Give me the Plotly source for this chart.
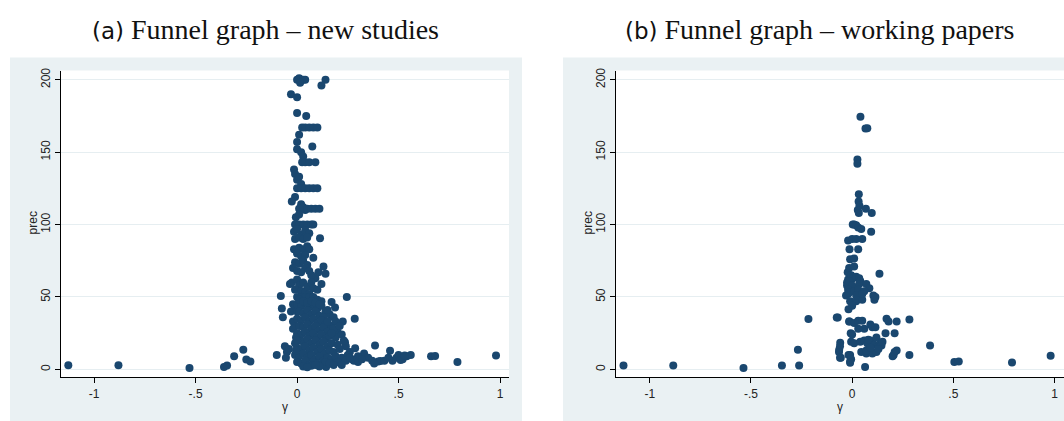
import plotly.graph_objects as go

# ---------------- data ----------------
# Panel (a): new studies
gamma_new = [
    0.00, 0.01, 0.02, 0.03, 0.04, 0.015, 0.14, 0.12, -0.03, 0.00,
    0.00, 0.045, 0.025, 0.04, 0.06, 0.08, 0.10,
    0.01, 0.00, 0.00, 0.075, 0.02, 0.03,
    0.025, 0.04, 0.06, 0.09,
    -0.015, -0.01, 0.00, 0.02, 0.01,
    0.00, 0.02, 0.04, 0.06, 0.08, 0.10,
    -0.01, -0.026, 0.02, 0.03, 0.04,
    0.01, 0.03, 0.05, 0.07, 0.09, 0.11,
    -0.006, 0.01,
    -0.01, 0.01, 0.03, 0.05, 0.07, 0.08,
    -0.015, 0.00, 0.02, 0.04, 0.06, -0.01, 0.01, 0.03, 0.05, 0.113,
    -0.015, 0.01, 0.03, 0.05, 0.06, 0.00, 0.02, 0.08, 0.04,
    -0.01, 0.01, 0.03, 0.05, -0.02, 0.04, 0.00, 0.02, 0.06,
    0.13, 0.14, 0.105, 0.12, 0.09, 0.07,
    -0.035, -0.025, 0.00, 0.01, 0.03, 0.05, 0.07, 0.08, 0.10,
    -0.01, 0.02, 0.04, 0.06, 0.00, 0.02, 0.04, 0.06, 0.08, 0.10, 0.12,
    -0.08, -0.075, -0.07, 0.245, 0.17, 0.187, 0.284, 0.225, 0.20, 0.236,
    0.286, 0.384, 0.458, 0.33, 0.30, 0.27, 0.40, 0.41,
    0.47, 0.49, 0.50, 0.52, 0.54, 0.56, 0.51, 0.53,
    0.66, 0.68, 0.79, 0.98, 0.143,
    -0.10, -0.06, -0.05, -0.055, -0.04,
    -1.127, -0.88, -0.53, -0.36, -0.345, -0.31, -0.265, -0.25, -0.23,
    -0.03, -0.02, -0.01, -0.02, -0.01, -0.02, 0.00,
    0.00, 0.02, 0.04, 0.06, 0.08, 0.10, 0.12, 0.14, 0.16,
    0.01, 0.03, 0.05, 0.07, 0.09, 0.11, 0.13, 0.15, 0.18,
    0.00, 0.02, 0.04, 0.06, 0.08, 0.10, 0.12, 0.14, 0.17, 0.19,
    0.01, 0.03, 0.05, 0.07, 0.09, 0.11, 0.13, 0.15, 0.18, 0.21,
    0.00, 0.02, 0.04, 0.06, 0.08, 0.10, 0.12, 0.14, 0.16, 0.19, 0.22,
    0.01, 0.03, 0.05, 0.07, 0.09, 0.11, 0.13, 0.15, 0.17, 0.20, 0.24,
    0.00, 0.02, 0.04, 0.06, 0.08, 0.10, 0.12, 0.14, 0.16, 0.18, 0.21, 0.26,
    -0.01, 0.01, 0.03, 0.05, 0.07, 0.09, 0.11, 0.13, 0.15, 0.17, 0.19, 0.22, 0.25, 0.28,
    0.00, 0.02, 0.04, 0.06, 0.08, 0.10, 0.12, 0.14, 0.16, 0.20, 0.24, 0.30, 0.35, 0.37,
    0.03, 0.07, 0.11, 0.05, 0.09, 0.18, 0.22,
    -0.005, -0.01, -0.005, 0.00,
    0.01, 0.03, 0.05, 0.07, 0.09, 0.11,
    0.15, 0.17, 0.23, 0.26, 0.32, 0.43, 0.45, 0.38,
]
prec_new = [
    200, 201, 200, 200, 200, 198, 200, 196, 190, 188,
    177, 175, 167, 167, 167, 167, 167,
    162, 157, 152, 154, 150, 147,
    143, 143, 143, 143,
    138, 135, 131, 128, 133,
    125, 125, 125, 125, 125, 125,
    119, 116, 114, 112, 110,
    111, 111, 111, 111, 111, 111,
    105, 107,
    100, 100, 100, 100, 100, 100,
    95, 97, 93, 96, 94, 90, 91, 90, 91, 90.6,
    83, 84, 83, 85, 83, 80, 78, 77, 79,
    74, 73, 75, 72, 70, 70, 68, 67, 68,
    71, 66, 67, 59, 63, 65,
    59, 60, 62, 58, 60, 57, 60, 56, 55,
    55, 54, 53, 52, 50, 50, 50, 50, 50, 48, 47,
    50.7, 42, 36, 50, 46.6, 42.7, 35, 33, 25.5, 18.7,
    14.6, 16.4, 12.8, 11, 9, 7, 5.5, 5.7,
    6, 8, 10, 7, 9, 10, 6.5, 9.5,
    9, 9.2, 5, 9.6, 1.6,
    10, 16, 12, 8, 14,
    2.8, 2.8, 1.0, 1.6, 2.7, 9, 13.5, 6.8, 5.5,
    40, 45, 44, 33, 30, 28, 40,
    45, 44, 46, 43, 45, 42, 44, 40, 38,
    40, 39, 41, 38, 40, 37, 36, 41, 36,
    35, 34, 36, 33, 35, 32, 34, 31, 30, 33,
    30, 29, 31, 28, 30, 27, 29, 26, 28, 30,
    25, 24, 26, 23, 25, 22, 24, 21, 23, 22, 24,
    20, 19, 21, 18, 20, 17, 19, 16, 18, 17, 16,
    15, 14, 16, 13, 15, 12, 14, 11, 13, 12, 14, 12,
    10, 9, 11, 8, 10, 7, 9, 6, 8, 7, 9, 8, 10, 6,
    5, 4, 6, 3, 5, 4, 3, 5, 4, 5, 6, 5, 8, 6,
    2, 2.5, 2, 1.5, 3, 3, 3,
    22, 18, 13, 20,
    48, 47, 46, 47, 46, 45,
    33, 25, 20, 8, 7, 6, 8, 4,
]

# Panel (b): working papers
gamma_wp = [
    -1.13, -0.884, -0.537, -0.347, -0.262, -0.268, -0.216, -0.071, -0.059, -0.064,
    -0.056, -0.01, -0.018, -0.005, -0.013, -0.007, -0.018,
    -0.03, -0.02, -0.025, -0.02, -0.022, -0.015, -0.01, -0.013, -0.02, 0.00, 0.003,
    0.041, 0.066, 0.075, 0.026, 0.026, 0.033, 0.032, 0.036, 0.028, 0.033, 0.068, 0.097,
    0.01, 0.02, 0.03, 0.045, 0.094, 0.02, 0.05, 0.03, 0.01, 0.01,
    0.135, -0.005, 0.005, 0.02, 0.035, 0.04,
    -0.025, -0.015, 0.00, 0.035, 0.07, 0.085,
    -0.02, -0.015, 0.01, 0.03, 0.06,
    -0.01, 0.02, 0.05, 0.02, 0.05, 0.105, 0.11, 0.115, 0.00,
    -0.076, -0.015, 0.01, 0.03, 0.05, 0.06, 0.03,
    0.09, 0.10, 0.115, 0.17, 0.18, 0.22, 0.283, 0.165, 0.21,
    0.00, 0.01, 0.04, 0.06, 0.075, 0.09, 0.11, 0.13, 0.14, 0.145,
    -0.06, -0.065, -0.06, -0.01, -0.005, -0.01, 0.045, 0.07, 0.08, 0.095, 0.10, 0.12,
    0.20, 0.205, 0.21, 0.22, 0.283, 0.385, 0.505, 0.527, 0.79, 0.981, 0.064,
    0.07, 0.09, 0.08, 0.12, 0.13, 0.15,
]
prec_wp = [
    2.7, 2.7, 0.9, 2.7, 2.7, 13.5, 34.7, 35.8, 18.3, 13.5,
    8, 5.5, 10, 19, 33, 25, 41.5,
    51, 52, 58, 62, 67, 70, 76, 83, 89, 90, 100,
    174.4, 166.4, 166.6, 145, 142, 121, 116, 113, 110, 108, 111, 108,
    100, 99.5, 98, 97, 95, 90, 90, 83, 76.5, 71,
    66, 65, 63, 64, 63, 61,
    60, 61, 58, 59, 59, 56,
    55, 53, 54, 55, 54,
    47, 47, 48, 51, 52, 51, 48, 50, 44,
    35.8, 33, 32, 33.5, 33.5, 28, 28,
    31, 29, 29, 35, 33, 33, 34.5, 25, 25,
    24, 18, 19, 20, 18, 20, 17, 16, 18, 16.5,
    16, 12, 8, 10, 7, 4.5, 12, 11, 13, 12, 11, 12,
    9, 10, 12, 13, 10, 16.4, 5, 5.5, 4.8, 9.4, 1.6,
    13, 15, 20.5, 22, 14, 19,
]

x_tickvals = [-1, -0.5, 0, 0.5, 1]
x_ticktext = ["-1", "-.5", "0", ".5", "1"]
y_tickvals = [0, 50, 100, 150, 200]
y_ticktext = ["0", "50", "100", "150", "200"]

titles = ["(a)", "(b)"]
subtitles = ["Funnel graph – new studies", "Funnel graph – working papers"]

# ---------------- styling ----------------
W, H = 1064, 421
NAVY = "#1a476f"
REGION = "#eaf1f3"
GRID = "#e6eef1"


def px(x):
    return x / W


def py(y):
    return 1 - y / H


fig = go.Figure()
fig.add_trace(go.Scatter(x=gamma_new, y=prec_new, mode="markers",
                         marker=dict(color=NAVY, size=8, line=dict(width=0)),
                         xaxis="x", yaxis="y", showlegend=False))
fig.add_trace(go.Scatter(x=gamma_wp, y=prec_wp, mode="markers",
                         marker=dict(color=NAVY, size=8, line=dict(width=0)),
                         xaxis="x2", yaxis="y2", showlegend=False))

tickfont = dict(family="Liberation Sans, Arial, sans-serif", size=12, color="#222")
common_x = dict(showline=True, linecolor="black", linewidth=1, ticks="outside",
                ticklen=5, tickcolor="black", showgrid=False, zeroline=False,
                tickvals=x_tickvals, ticktext=x_ticktext, tickfont=tickfont)
common_y = dict(showline=True, linecolor="black", linewidth=1, ticks="outside",
                ticklen=5, tickcolor="black", showgrid=True, gridcolor=GRID,
                gridwidth=1, zeroline=False, tickvals=y_tickvals,
                ticktext=y_ticktext, tickangle=-90, tickfont=tickfont)

yb, yt = py(377), py(68)
fig.update_layout(
    width=W, height=H, margin=dict(l=0, r=0, t=0, b=0),
    paper_bgcolor="white", plot_bgcolor="white",
    xaxis=dict(domain=[px(61), px(509)], range=[-1.163, 1.044], anchor="y", **common_x),
    yaxis=dict(domain=[yb, yt], range=[-5.5, 206.4], anchor="x", **common_y),
    xaxis2=dict(domain=[px(616), 1.0], range=[-1.167, 1.047], anchor="y2", **common_x),
    yaxis2=dict(domain=[yb, yt], range=[-5.5, 206.4], anchor="x2", **common_y),
)

# graph-region backgrounds
for x0, x1 in [(10, 522), (563, 1064)]:
    fig.add_shape(type="rect", xref="paper", yref="paper", layer="below",
                  x0=px(x0), x1=px(x1), y0=0, y1=py(55),
                  fillcolor=REGION, line=dict(width=0))
# white plot regions on top of graph-region background
for x0, x1 in [(61, 509), (616, 1064)]:
    fig.add_shape(type="rect", xref="paper", yref="paper", layer="below",
                  x0=px(x0), x1=px(x1), y0=yb, y1=yt,
                  fillcolor="white", line=dict(width=0))

annos = []
for i, cx in enumerate([265, 819]):
    annos.append(dict(
        x=px(cx), y=py(27), xref="paper", yref="paper", showarrow=False,
        xanchor="center", yanchor="middle",
        text=f"<span style='font-family:DejaVu Sans;font-size:23px'>{titles[i]}</span> {subtitles[i]}",
        font=dict(family="Liberation Serif, DejaVu Serif, serif", size=28, color="#111")))
for cx in [33, 588]:
    annos.append(dict(x=px(cx), y=py(222), xref="paper", yref="paper", showarrow=False,
                      xanchor="center", yanchor="middle", textangle=-90, text="prec",
                      font=dict(family="Liberation Sans, Arial, sans-serif", size=12, color="#222")))
for cx in [285, 840]:
    annos.append(dict(x=px(cx), y=py(407), xref="paper", yref="paper", showarrow=False,
                      xanchor="center", yanchor="middle", text="γ",
                      font=dict(family="Liberation Sans, Arial, sans-serif", size=12, color="#222")))
fig.update_layout(annotations=annos)

fig.write_html("out.html")
